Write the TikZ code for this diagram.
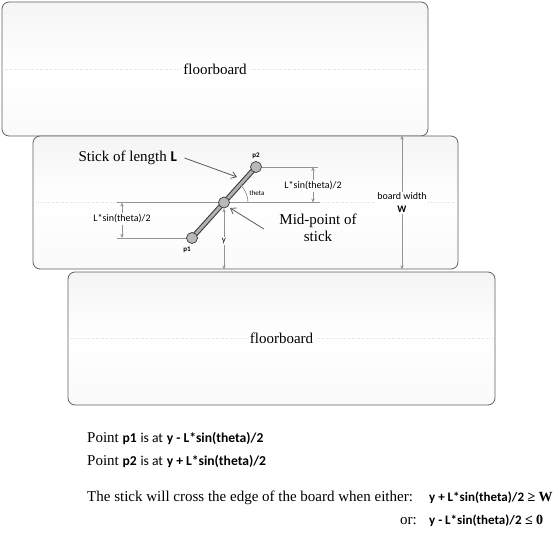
\documentclass[tikz,border=0pt]{standalone}
\usepackage{fontspec}
\setmainfont{Liberation Serif}
\newfontfamily\calib{Carlito}
\usetikzlibrary{arrows.meta}
\newcommand\myCr[1]{{\calib\fontsize{13.6}{16}\selectfont #1}}
\newcommand\myCb[1]{{\calib\bfseries\fontsize{13.6}{16}\selectfont #1}}
\newcommand\myCc[1]{{\calib\bfseries\fontsize{13}{16}\selectfont #1}}
\begin{document}
\begin{tikzpicture}[x=1pt,y=-1pt,
 board/.style={draw=gray!75!black, line width=0.8pt, rounded corners=7pt, top color=gray!8, bottom color=gray!4, middle color=white, inner sep=0pt},
 dim/.style={draw=gray!85, line width=0.7pt, -{Stealth[length=4pt,width=3.4pt]}},
 ext/.style={draw=gray!85, line width=0.7pt},
 ptr/.style={draw=gray!70!black, line width=0.8pt, -{Straight Barb[length=5pt,width=7pt]}},
 faint/.style={draw=gray!28, dotted, line width=0.5pt},
 serif/.style={font=\fontsize{15}{17}\selectfont},
 small/.style={font=\calib\fontsize{10}{13}\selectfont, fill=white, inner sep=1pt},
 tiny/.style={font=\calib\fontsize{7}{8}\selectfont, inner sep=1pt},
 joint/.style={circle, draw=gray!45!black, fill=gray!55, minimum size=11pt, inner sep=0pt, line width=0.7pt}
]
\useasboundingbox (0,0) rectangle (558,535);

% boards
\node[board, minimum width=426pt, minimum height=134pt] (b1) at (215,69) {};
\node[serif] (f1) at (b1.center) {floorboard};
\draw[faint] ([xshift=3pt]b1.west) -- (f1.west);
\draw[faint] (f1.east) -- ([xshift=-3pt]b1.east);

\node[board, minimum width=425pt, minimum height=133pt] (b2) at (245.5,202.5) {};
\draw[faint] ([xshift=3pt]b2.west) -- ([xshift=-3pt]b2.east);

\node[board, minimum width=427pt, minimum height=133pt] (b3) at (281.5,338.5) {};
\node[serif] (f3) at (b3.center) {floorboard};
\draw[faint] ([xshift=3pt]b3.west) -- (f3.west);
\draw[faint] (f3.east) -- ([xshift=-3pt]b3.east);

% mid line
\coordinate (ml) at (117,202.5);
\coordinate (mr) at (320,202.5);
\draw[ext] (ml) -- (mr);

% stick
\coordinate (P1) at (192,238);
\coordinate (P2) at (256,167);
\draw[line width=5pt, gray!40!black] (P1) -- (P2);
\draw[line width=3pt, gray!62] (P1) -- (P2);
\node[joint] (p1) at (P1) {};
\node[joint] (p2) at (P2) {};
\node[joint] (mid) at (224,202.5) {};

\node[tiny, font=\calib\bfseries\fontsize{7}{8}\selectfont] (l2) at (256,156) {p2};
\node[tiny, font=\calib\bfseries\fontsize{7}{8}\selectfont] (l1) at (187,250) {p1};

% extension lines
\coordinate (e2) at (318,167);
\coordinate (e1) at (117,238);
\draw[ext] (p2.east) -- (e2);
\draw[ext] (e1) -- (p1.west);

% theta
\draw[ext] ([shift={(0:24pt)}]mid.center) arc[start angle=0,end angle=47.5,radius=24pt];
\node[tiny] (th) at (257,193) {theta};

% right dimension
\node[small] (d2) at (313,186) {L*sin(theta)/2};
\draw[dim] (d2.north) -- (d2.north |- p2);
\draw[dim] (d2.south) -- (d2.south |- mid);

% left dimension
\node[small] (d1) at (122,219) {L*sin(theta)/2};
\draw[dim] (d1.north) -- (d1.north |- mid);
\draw[dim] (d1.south) -- (d1.south |- p1);

% y
\node[small, font=\calib\fontsize{9}{10}\selectfont] (yl) at (224,241) {y};
\draw[dim] (yl.north) -- (mid.south);
\draw[dim] (yl.south) -- (yl.south |- b2.south);

% board width
\node[small, align=center] (bw) at (402,203) {board width\\\textbf{W}};
\draw[dim] (bw.north) -- (bw.north |- b2.north);
\draw[dim] (bw.south) -- (bw.south |- b2.south);

% stick label
\node[serif, anchor=west] (sl) at (75,158) {Stick of length {\calib\bfseries L}};
\coordinate (sa) at (237,177);
\draw[ptr] ([xshift=4pt]sl.east) -- (sa);

% mid-point label
\node[serif, align=center] (mp) at (318,228) {Mid-point of\\stick};
\coordinate (mb) at (230,208);
\draw[ptr] ([xshift=-12pt,yshift=-1pt]mp.west) -- (mb);

% bottom text
\node[serif, anchor=base west, inner sep=0pt] (t1) at (87,442) {Point \myCb{p1} \myCr{is at} \myCb{y - L*sin(theta)/2}};
\node[serif, anchor=base west, inner sep=0pt] (t2) at (87,465) {Point \myCb{p2} \myCr{is at} \myCb{y + L*sin(theta)/2}};
\node[serif, anchor=base west, inner sep=0pt] (t3) at (87,501) {The stick will cross the edge of the board when either:};
\node[anchor=base west, inner sep=0pt, font=\fontsize{14}{16}\selectfont] (c1) at (429,501) {\myCc{y + L*sin(theta)/2} \textbf{≥ W}};
\node[serif, anchor=base east, inner sep=0pt] (t4) at (417,524) {or:};
\node[anchor=base west, inner sep=0pt, font=\fontsize{14}{16}\selectfont] (c2) at (429,524) {\myCc{y - L*sin(theta)/2} \textbf{≤ 0}};
\end{tikzpicture}
\end{document}
